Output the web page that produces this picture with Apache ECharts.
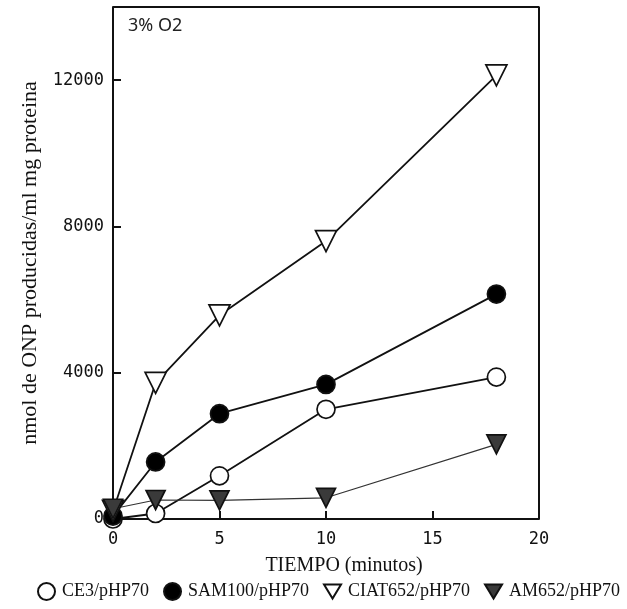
<!DOCTYPE html>
<html lang="es">
<head>
    <meta charset="UTF-8">
    <title>ONP 3% O2</title>
    <style>
        body { margin: 0; background: #fff; }
        #grafico { width: 627px; height: 609px; }
    </style>
</head>
<body>
<div id="grafico"></div>
<script src="https://cdn.jsdelivr.net/npm/echarts@6/dist/echarts.min.js"></script>
<script>
    // datos
    var tiempos = [0, 2, 5, 10, 18];
    var ce3 = [0, 150, 1180, 3000, 3880];
    var sam100 = [80, 1560, 2880, 3680, 6150];
    var ciat652 = [220, 3720, 5570, 7600, 12130];
    var am652 = [280, 520, 510, 580, 2040];
    var nombres = ['CE3/pHP70', 'SAM100/pHP70', 'CIAT652/pHP70', 'AM652/pHP70'];
    var ticksY = [0, 4000, 8000, 12000];

    function pares(valores) {
        var res = [];
        for (var i = 0; i < tiempos.length; i++) {
            res.push([tiempos[i], valores[i]]);
        }
        return res;
    }

    var serif = 'Liberation Serif';
    var mono = 'DejaVu Sans Mono';
    var trianguloAbajo = 'path://M0,0 L12,0 L6,10 Z';

    function serie(nombre, valores, simbolo, relleno, tam, grosor, colorLinea) {
        return {
            name: nombre,
            type: 'line',
            data: pares(valores),
            symbol: simbolo,
            symbolSize: tam,
            lineStyle: { color: colorLinea, width: grosor },
            itemStyle: { color: relleno, borderColor: '#111', borderWidth: 1.7, opacity: 1 },
            z: 3
        };
    }

    var myChart = echarts.init(document.getElementById('grafico'));
    var option = {
        animation: false,
        grid: { left: 113, right: 88, top: 7, bottom: 90 },
        graphic: [{
            type: 'text',
            left: 128, top: 17,
            style: { text: '3% O2', font: '18px "Noto Sans"', fill: '#222' }
        }, {
            type: 'text',
            x: 344, y: 566,
            style: {
                text: 'TIEMPO (minutos)', font: '20px "Liberation Serif"', fill: '#111',
                align: 'center', verticalAlign: 'middle'
            }
        }],
        legend: {
            top: 582,
            left: 37,
            width: 590,
            padding: 0,
            itemGap: 14,
            itemWidth: 17,
            itemHeight: 17,
            data: [
                { name: nombres[0], icon: 'circle' },
                { name: nombres[1], icon: 'circle' },
                { name: nombres[2], icon: trianguloAbajo },
                { name: nombres[3], icon: trianguloAbajo }
            ],
            textStyle: { fontFamily: serif, fontSize: 18, color: '#111', padding: [0, 0, 0, 2] }
        },
        xAxis: {
            type: 'value',
            min: 0, max: 20, interval: 5,
            axisLine: { lineStyle: { color: '#111', width: 2 } },
            axisTick: { inside: true, length: 8, lineStyle: { color: '#111', width: 2 } },
            axisLabel: { fontFamily: mono, fontSize: 17, color: '#111', margin: 12 },
            splitLine: { show: false }
        },
        yAxis: {
            type: 'value',
            min: 0, max: 14000, interval: 4000,
            name: 'nmol de ONP producidas/ml mg proteina',
            nameLocation: 'middle',
            nameGap: 72,
            nameTextStyle: { fontFamily: serif, fontSize: 22, color: '#111' },
            axisLine: { lineStyle: { color: '#111', width: 2 } },
            axisTick: { inside: true, length: 8, lineStyle: { color: '#111', width: 2 } },
            axisLabel: {
                fontFamily: mono, fontSize: 17, color: '#111', margin: 9,
                formatter: function (v) { return ticksY.indexOf(v) >= 0 ? String(v) : ''; }
            },
            splitLine: { show: false }
        },
        series: [
            serie(nombres[0], ce3, 'circle', '#fff', 18, 1.8, '#111'),
            serie(nombres[1], sam100, 'circle', '#000', 18, 1.8, '#111'),
            serie(nombres[2], ciat652, trianguloAbajo, '#fff', 21, 1.8, '#111'),
            serie(nombres[3], am652, trianguloAbajo, '#3a3a3a', 19, 1.2, '#333'),
            {
                // marco superior y derecho
                type: 'line',
                data: [[0, 14000], [20, 14000], [20, 0]],
                symbol: 'none',
                lineStyle: { color: '#111', width: 2 },
                silent: true,
                z: 1
            }
        ]
    };
    myChart.setOption(option);
</script>
</body>
</html>
